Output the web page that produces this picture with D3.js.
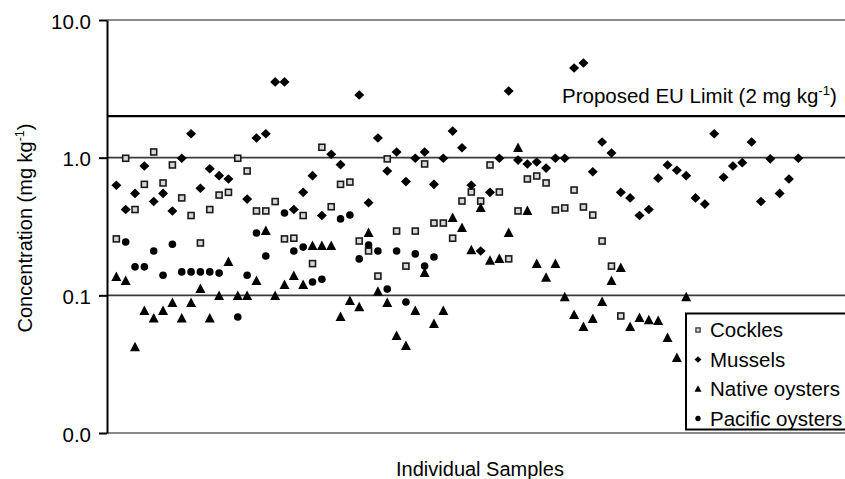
<!DOCTYPE html>
<html>
<head>
<meta charset="utf-8">
<script src="https://cdn.jsdelivr.net/npm/d3@7"></script>
<style>
  html, body { margin: 0; padding: 0; background: #fff; }
  svg { display: block; font-family: Arial, "Liberation Sans", sans-serif; }
</style>
</head>
<body>
<svg id="chart" width="845" height="479"></svg>
<script>
// Concentrations (mg kg-1) per individual sample: [sample number, value]
const cockles = [
  [1,0.257],[2,0.99],[3,0.42],[4,0.64],[5,1.10],[6,0.655],[7,0.885],[8,0.51],[9,0.38],
  [10,0.24],[11,0.42],[12,0.535],[13,0.56],[14,0.99],[15,0.80],[16,0.41],[17,0.41],
  [18,0.48],[19,0.257],[20,0.26],[21,0.38],[22,0.17],[23,1.19],[24,0.44],[25,0.64],
  [26,0.665],[27,0.248],[28,0.21],[29,0.138],[30,0.98],[31,0.293],[32,0.163],[33,0.293],
  [34,0.90],[35,0.335],[36,0.335],[37,0.26],[38,0.484],[39,0.563],[40,0.484],[41,0.885],
  [42,0.563],[43,0.184],[44,0.41],[45,0.70],[46,0.736],[47,0.655],[48,0.417],[49,0.431],
  [50,0.582],[51,0.438],[52,0.383],[53,0.248],[54,0.163],[55,0.0708]
];
const mussels = [
  [1,0.63],[2,0.42],[3,0.55],[4,0.87],[5,0.48],[6,0.55],[7,0.41],[8,0.99],[9,1.49],
  [10,0.60],[11,0.83],[12,0.74],[13,0.70],[15,0.50],[16,1.39],[17,1.49],[18,3.55],
  [19,3.55],[20,0.42],[21,0.56],[22,0.74],[23,0.38],[24,1.06],[25,0.89],[27,2.85],
  [28,0.47],[29,1.39],[30,0.80],[31,1.10],[32,0.67],[33,0.99],[34,1.10],[35,0.64],
  [36,0.99],[37,1.56],[38,1.18],[39,0.63],[40,0.21],[41,0.56],[42,0.99],[43,3.05],
  [44,0.96],[45,0.90],[46,0.93],[47,0.84],[48,0.99],[49,0.99],[50,4.48],[51,4.87],
  [52,0.79],[53,1.30],[54,1.08],[55,0.56],[56,0.51],[57,0.38],[58,0.42],[59,0.71],
  [60,0.885],[61,0.81],[62,0.74],[63,0.51],[64,0.46],[65,1.49],[66,0.72],[67,0.87],
  [68,0.92],[69,1.30],[70,0.48],[71,0.98],[72,0.55],[73,0.70],[74,0.99]
];
const nativeOysters = [
  [1,0.136],[2,0.127],[3,0.042],[4,0.077],[5,0.068],[6,0.077],[7,0.088],[8,0.068],
  [9,0.088],[10,0.111],[11,0.068],[12,0.099],[13,0.175],[14,0.099],[15,0.099],[16,0.127],
  [17,0.293],[18,0.099],[19,0.119],[20,0.138],[21,0.119],[22,0.228],[23,0.228],[24,0.228],
  [25,0.0696],[26,0.091],[27,0.082],[28,0.284],[29,0.106],[30,0.088],[31,0.0507],
  [32,0.0429],[33,0.077],[34,0.145],[35,0.0619],[36,0.077],[37,0.365],[38,0.308],
  [39,0.213],[40,0.431],[41,0.178],[42,0.184],[43,0.284],[44,1.175],[45,0.41],[46,0.169],
  [47,0.134],[48,0.169],[49,0.097],[50,0.072],[51,0.0589],[52,0.0673],[53,0.0895],
  [54,0.127],[55,0.158],[56,0.0589],[57,0.0684],[58,0.066],[59,0.0651],[60,0.049],
  [61,0.0351],[62,0.097]
];
const pacificOysters = [
  [2,0.244],[3,0.161],[4,0.161],[5,0.21],[6,0.14],[7,0.235],[8,0.148],[9,0.148],
  [10,0.148],[11,0.148],[12,0.145],[14,0.0696],[15,0.14],[16,0.284],[17,0.193],
  [19,0.396],[20,0.21],[21,0.224],[22,0.125],[23,0.131],[25,0.359],[26,0.383],
  [27,0.184],[28,0.232],[29,0.21],[30,0.111],[31,0.21],[32,0.0895],[33,0.20],
  [34,0.163],[35,0.19]
];
const yTicks = [10, 1, 0.1, 0.01];
const gridValues = [1, 0.1];
const euLimit = 2;
const legendLabels = ["Cockles", "Mussels", "Native oysters", "Pacific oysters"];
const sampleDomain = [0, 79];

const svg = d3.select("#chart");
const plotLeft = 107, plotRight = 845, plotTop = 20, plotBottom = 433;
const fontSize = 20.5;

const x = d3.scaleLinear().domain(sampleDomain).range([plotLeft, plotRight]);
const y = d3.scaleLog().domain([0.01, 10]).range([plotBottom, plotTop]);

// frame lines at top and bottom of the value range
svg.append("line").attr("x1", plotLeft).attr("x2", plotRight)
  .attr("y1", y(10)).attr("y2", y(10))
  .attr("stroke", "#8a8a8a").attr("stroke-width", 2);
svg.append("line").attr("x1", plotLeft).attr("x2", plotRight)
  .attr("y1", y(0.01)).attr("y2", y(0.01))
  .attr("stroke", "#8a8a8a").attr("stroke-width", 2);

// horizontal gridlines
svg.selectAll("line.grid").data(gridValues).join("line")
  .attr("class", "grid")
  .attr("x1", plotLeft).attr("x2", plotRight)
  .attr("y1", d => y(d)).attr("y2", d => y(d))
  .attr("stroke", "#3a3a3a").attr("stroke-width", 1.6);

// proposed EU limit line
svg.append("line").attr("x1", plotLeft).attr("x2", plotRight)
  .attr("y1", y(euLimit)).attr("y2", y(euLimit))
  .attr("stroke", "#000").attr("stroke-width", 2.2);

const euText = svg.append("text")
  .attr("x", 562).attr("y", 103)
  .attr("font-size", fontSize).attr("fill", "#000");
euText.append("tspan").text("Proposed EU Limit (2 mg kg");
euText.append("tspan").attr("dy", -8).attr("font-size", 13).text("-1");
euText.append("tspan").attr("dy", 8).text(")");

// y axis
const yAxis = d3.axisLeft(y)
  .tickValues(yTicks)
  .tickFormat(d3.format(".1f"))
  .tickSize(8).tickSizeOuter(0).tickPadding(8);
const gy = svg.append("g").attr("transform", `translate(${plotLeft},0)`).call(yAxis);
gy.select(".domain").attr("stroke", "#000").attr("stroke-width", 2);
gy.selectAll(".tick line").attr("stroke", "#000").attr("stroke-width", 2);
gy.selectAll(".tick text")
  .attr("font-size", fontSize).attr("fill", "#000")
  .attr("font-family", "Arial, 'Liberation Sans', sans-serif")
  .attr("dy", "0.4em");

// axis titles
const yTitle = svg.append("text")
  .attr("transform", "translate(32,228) rotate(-90)")
  .attr("text-anchor", "middle")
  .attr("font-size", 20).attr("fill", "#000");
yTitle.append("tspan").text("Concentration (mg kg");
yTitle.append("tspan").attr("dy", -8).attr("font-size", 12.5).text("-1");
yTitle.append("tspan").attr("dy", 8).text(")");

svg.append("text")
  .attr("x", 480).attr("y", 476)
  .attr("text-anchor", "middle")
  .attr("font-size", 20).attr("fill", "#000")
  .text("Individual Samples");

// marker shapes
const shapes = {
  square: g => g.append("rect").attr("x", -3).attr("y", -3).attr("width", 6).attr("height", 6)
    .attr("fill", "#d8d8d8").attr("stroke", "#1a1a1a").attr("stroke-width", 1.6),
  diamond: g => g.append("path").attr("d", "M0,-4.8 L5,0 L0,4.8 L-5,0 Z").attr("fill", "#000"),
  triangle: g => g.append("path").attr("d", "M0,-5.5 L5,4 L-5,4 Z").attr("fill", "#000"),
  circle: g => g.append("circle").attr("r", 3.8).attr("fill", "#000")
};

const seriesList = [
  { data: cockles, shape: "square" },
  { data: mussels, shape: "diamond" },
  { data: nativeOysters, shape: "triangle" },
  { data: pacificOysters, shape: "circle" }
];

seriesList.forEach(s => {
  const pts = svg.append("g").selectAll("g").data(s.data).join("g")
    .attr("transform", d => `translate(${x(d[0])},${y(d[1])})`);
  pts.each(function () { shapes[s.shape](d3.select(this)); });
});

// legend
const legend = svg.append("g");
legend.append("rect")
  .attr("x", 686).attr("y", 313.5).attr("width", 170).attr("height", 116)
  .attr("fill", "#fff").attr("stroke", "#000").attr("stroke-width", 2);
const legendShapes = ["square", "diamond", "triangle", "circle"];
legendLabels.forEach((label, i) => {
  const cy = 330 + i * 29.5;
  const mk = legend.append("g").attr("transform", `translate(698,${cy}) scale(0.7)`);
  shapes[legendShapes[i]](mk);
  legend.append("text")
    .attr("x", 710).attr("y", cy + 7)
    .attr("font-size", fontSize).attr("fill", "#000")
    .text(label);
});
</script>
</body>
</html>
